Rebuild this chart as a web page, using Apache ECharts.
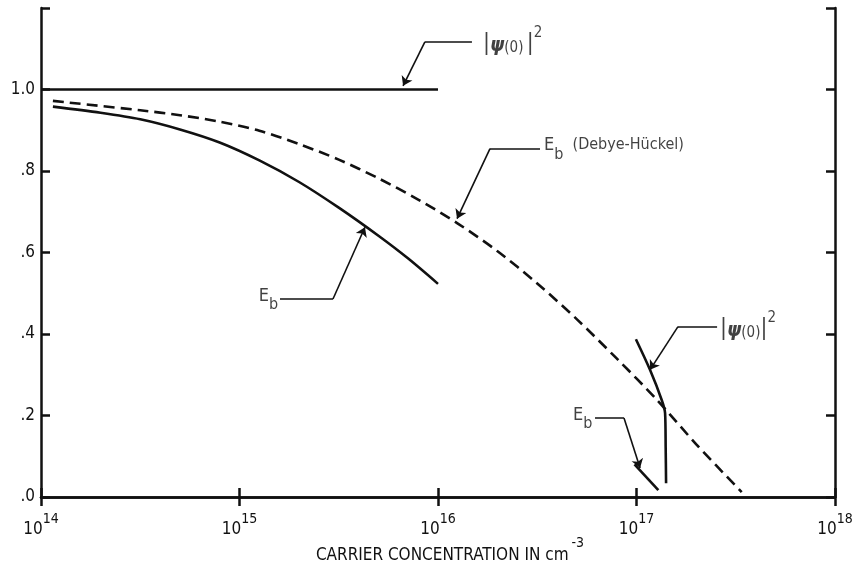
<!DOCTYPE html>
<html>
<head>
<meta charset="utf-8">
<script src="https://cdn.jsdelivr.net/npm/echarts@6/dist/echarts.min.js"></script>
<style>
  html, body { margin: 0; padding: 0; background: #fff; }
  #chart { width: 853px; height: 571px; }
</style>
</head>
<body>
<div id="chart"></div>
<script>
// x values are log10 of carrier concentration (cm^-3)
const psiTopLogN = [14.0, 16.0]
const psiTopVal = [1.0, 1.0]

const dhLogN = [14.06, 14.5, 14.7, 14.9, 15.1, 15.3, 15.5, 15.7, 15.9, 16.1, 16.3, 16.5, 16.7, 16.9, 17.1, 17.3, 17.53]
const dhVal = [0.972, 0.949, 0.937, 0.921, 0.899, 0.866, 0.828, 0.782, 0.730, 0.671, 0.603, 0.524, 0.436, 0.340, 0.240, 0.130, 0.012]

const ebLogN = [14.06, 14.3, 14.5, 14.7, 14.9, 15.1, 15.3, 15.5, 15.7, 15.85, 16.0]
const ebVal = [0.958, 0.943, 0.927, 0.902, 0.870, 0.826, 0.773, 0.710, 0.641, 0.585, 0.523]

const psiHiLogN = [16.997, 17.068, 17.127, 17.144, 17.147, 17.149]
const psiHiVal = [0.387, 0.312, 0.238, 0.206, 0.12, 0.034]

const ebHiLogN = [16.99, 17.11]
const ebHiVal = [0.08, 0.017]

const yTicks = [0, 0.2, 0.4, 0.6, 0.8, 1.0]

// annotations: label text, label anchor, horizontal leader, arrow from elbow to tip
const notes = [
  { text: '{bar||}{psi|ψ}{par|(0)} {bar||}{sup|2}', at: [16.227, 1.12], align: 'left',
    leader: [[15.934, 1.117], [16.171, 1.117]], arrow: [[15.934, 1.117], [15.824, 1.009]] },
  { text: '{n|E}{sub|b}{sm|  (Debye-Hückel)}', at: [16.534, 0.852], align: 'left',
    leader: [[16.262, 0.855], [16.514, 0.855]], arrow: [[16.262, 0.855], [16.096, 0.683]] },
  { text: '{n|E}{sub|b}', at: [15.195, 0.483], align: 'right',
    leader: [[15.204, 0.486], [15.471, 0.486]], arrow: [[15.471, 0.486], [15.632, 0.662]] },
  { text: '{bar||}{psi|ψ}{par|(0)}{bar||}{sup|2}', at: [17.421, 0.42], align: 'left',
    leader: [[17.209, 0.418], [17.406, 0.418]], arrow: [[17.209, 0.418], [17.068, 0.312]] },
  { text: '{n|E}{sub|b}', at: [16.778, 0.191], align: 'right',
    leader: [[16.791, 0.194], [16.937, 0.194]], arrow: [[16.937, 0.194], [17.018, 0.071]] }
]

const FONT = "'Liberation Sans Narrow', 'DejaVu Sans Condensed', sans-serif"
const pw = (e) => Math.pow(10, e)
const pts = (xs, ys) => xs.map((x, i) => [pw(x), ys[i]])
const pp = (p) => [pw(p[0]), p[1]]

const noteRich = {
  n: { fontSize: 18, fontFamily: FONT, lineHeight: 26, verticalAlign: 'top', color: '#111' },
  sub: { fontSize: 16, fontFamily: FONT, lineHeight: 18, verticalAlign: 'bottom', color: '#111' },
  sm: { fontSize: 16, fontFamily: FONT, lineHeight: 24, verticalAlign: 'top', color: '#111' },
  bar: { fontSize: 23, fontFamily: FONT, lineHeight: 30, verticalAlign: 'bottom', color: '#111' },
  psi: { fontSize: 20, fontFamily: FONT, fontWeight: 'bold', fontStyle: 'italic', lineHeight: 30, verticalAlign: 'bottom', color: '#111' },
  par: { fontSize: 15, fontFamily: FONT, lineHeight: 28, verticalAlign: 'bottom', color: '#111' },
  sup: { fontSize: 15, fontFamily: FONT, lineHeight: 14, verticalAlign: 'top', color: '#111' }
}

const tickRich = {
  b: { fontSize: 17, fontFamily: FONT, lineHeight: 26, verticalAlign: 'bottom', color: '#111' },
  s: { fontSize: 14, fontFamily: FONT, lineHeight: 14, verticalAlign: 'top', color: '#111' }
}

const axisLine = { show: true, lineStyle: { color: '#111', width: 2.5 } }
const axisTick = { show: true, inside: true, length: 9, lineStyle: { color: '#111', width: 2.5 } }

const lineSeries = (data, dashed) => ({
  type: 'line',
  data: data,
  showSymbol: false,
  symbol: 'none',
  smooth: 0.3,
  lineStyle: { color: '#111', width: 2.6, type: dashed ? [11, 6] : 'solid' },
  z: 3
})

const chart = echarts.init(document.getElementById('chart'))
chart.setOption({
  animation: false,
  backgroundColor: '#fff',
  grid: { left: 41, right: 18, top: 8, bottom: 74, containLabel: false, outerBoundsMode: 'none' },
  xAxis: [{
    type: 'log', logBase: 10, min: 1e14, max: 1e18, interval: 1,
    position: 'bottom',
    axisLine: axisLine, axisTick: axisTick, splitLine: { show: false },
    axisLabel: {
      margin: 15,
      formatter: (v) => '{b|10}{s|' + Math.round(Math.log10(v)) + '}',
      rich: tickRich
    },
    name: '{t|CARRIER CONCENTRATION IN cm}{s|-3}',
    nameLocation: 'middle',
    nameGap: 39,
    nameMoveOverlap: false,
    nameTextStyle: {
      rich: {
        t: { fontSize: 17, fontFamily: FONT, lineHeight: 28, verticalAlign: 'bottom', color: '#111', padding: [0, 0, 0, 24] },
        s: { fontSize: 14, fontFamily: FONT, lineHeight: 12, verticalAlign: 'top', color: '#111', padding: [0, 0, 0, 3] }
      }
    }
  }, {
    type: 'log', logBase: 10, min: 1e14, max: 1e18, interval: 1,
    position: 'top',
    axisLine: axisLine, axisTick: axisTick, splitLine: { show: false },
    axisLabel: { show: false }
  }],
  yAxis: [{
    type: 'value', min: 0, max: 1.2, interval: 0.2,
    position: 'left',
    axisLine: axisLine, axisTick: axisTick, splitLine: { show: false },
    axisLabel: {
      margin: 6,
      fontSize: 17, fontFamily: FONT, color: '#111',
      formatter: (v) => yTicks.some(t => Math.abs(t - v) < 1e-6) ? v.toFixed(1).replace(/^0/, '') : ''
    }
  }, {
    type: 'value', min: 0, max: 1.2, interval: 0.2,
    position: 'right',
    axisLine: axisLine, axisTick: axisTick, splitLine: { show: false },
    axisLabel: { show: false }
  }],
  series: [
    lineSeries(pts(psiTopLogN, psiTopVal), false),
    lineSeries(pts(dhLogN, dhVal), true),
    lineSeries(pts(ebLogN, ebVal), false),
    lineSeries(pts(psiHiLogN, psiHiVal), false),
    lineSeries(pts(ebHiLogN, ebHiVal), false),
    {
      type: 'lines', coordinateSystem: 'cartesian2d',
      symbol: 'none',
      lineStyle: { color: '#111', width: 1.6, opacity: 1 },
      data: notes.map(n => ({ coords: n.leader.map(pp) })),
      z: 4
    },
    {
      type: 'lines', coordinateSystem: 'cartesian2d',
      symbol: ['none', 'arrow'], symbolSize: [0, 9],
      lineStyle: { color: '#111', width: 1.6, opacity: 1 },
      data: notes.map(n => ({ coords: n.arrow.map(pp) })),
      z: 4
    },
    {
      type: 'scatter',
      symbolSize: 0,
      silent: true,
      data: notes.map(n => ({
        value: pp(n.at),
        label: {
          show: true,
          position: n.align === 'left' ? 'right' : 'left',
          distance: 0,
          formatter: n.text,
          rich: noteRich
        }
      })),
      z: 5
    }
  ]
})
</script>
</body>
</html>
